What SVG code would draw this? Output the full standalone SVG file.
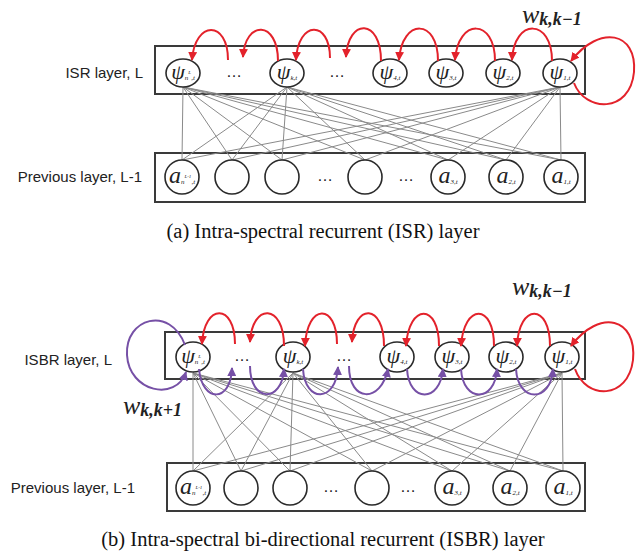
<svg xmlns="http://www.w3.org/2000/svg" width="644" height="559" viewBox="0 0 644 559">
<defs>
<style>
.box{fill:none;stroke:#3a3a3a;stroke-width:2}
.node{fill:#fff;stroke:#2a2a2a;stroke-width:1.6}
.lbl{font-family:"Liberation Sans",Arial,sans-serif;font-size:15px;fill:#222}
.cap{font-family:"Liberation Serif","Times New Roman",serif;font-size:20.5px;fill:#111}
.psi{font-family:"Liberation Serif","DejaVu Serif",serif;font-style:italic;font-size:22px;fill:#222}
.av{font-family:"Liberation Serif","DejaVu Serif",serif;font-style:italic;font-size:24px;fill:#222}
.sub{font-size:7px}
.sup{font-size:5px}
.dots{font-family:"Liberation Sans",Arial,sans-serif;font-size:16px;fill:#222}
.w{font-family:"Liberation Serif","DejaVu Serif",serif;font-style:italic;font-size:26px;fill:#222}
.ws{font-size:18px;font-weight:bold}
.conn line{stroke:#8a8a8a;stroke-width:1}
.red{fill:none;stroke:#e3222b;stroke-width:2;marker-end:url(#ar)}
.pur{fill:none;stroke:#7650a6;stroke-width:2;marker-end:url(#ap)}
</style>
<marker id="ar" viewBox="0 0 10 10" refX="9" refY="5" markerUnits="userSpaceOnUse" markerWidth="9" markerHeight="9" orient="auto"><path d="M0,0 L10,5 L0,10 z" fill="#e3222b"/></marker>
<marker id="ap" viewBox="0 0 10 10" refX="9" refY="5" markerUnits="userSpaceOnUse" markerWidth="9" markerHeight="9" orient="auto"><path d="M0,0 L10,5 L0,10 z" fill="#7650a6"/></marker>
</defs>
<rect width="644" height="559" fill="#fff"/>

<!-- ===== (a) ===== -->
<g id="a-labels">
<text class="lbl" x="143" y="78" text-anchor="end">ISR layer, L</text>
<text class="lbl" x="142" y="182" text-anchor="end">Previous layer, L-1</text>
</g>
<rect id="a-top-box" class="box" x="155" y="46" width="430" height="48"/>
<rect id="a-bot-box" class="box" x="155" y="153" width="430" height="49"/>

<g id="a-conn" class="conn">
<line x1="183" y1="87" x2="182" y2="160"/><line x1="183" y1="87" x2="232" y2="160"/><line x1="183" y1="87" x2="282" y2="160"/><line x1="183" y1="87" x2="365" y2="160"/><line x1="183" y1="87" x2="448" y2="160"/><line x1="183" y1="87" x2="506" y2="160"/><line x1="183" y1="87" x2="561" y2="160"/>
<line x1="287" y1="87" x2="182" y2="160"/><line x1="287" y1="87" x2="232" y2="160"/><line x1="287" y1="87" x2="282" y2="160"/><line x1="287" y1="87" x2="365" y2="160"/><line x1="287" y1="87" x2="448" y2="160"/><line x1="287" y1="87" x2="506" y2="160"/><line x1="287" y1="87" x2="561" y2="160"/>
<line x1="560" y1="87" x2="182" y2="160"/><line x1="560" y1="87" x2="232" y2="160"/><line x1="560" y1="87" x2="282" y2="160"/><line x1="560" y1="87" x2="365" y2="160"/><line x1="560" y1="87" x2="448" y2="160"/><line x1="560" y1="87" x2="506" y2="160"/><line x1="560" y1="87" x2="561" y2="160"/>
</g>

<g id="a-psi-n"><ellipse class="node" cx="183" cy="73" rx="17" ry="14"/><text class="psi" x="183" y="79" text-anchor="middle">ψ<tspan class="sub" dy="1">n</tspan><tspan class="sup" dy="-6">L</tspan><tspan class="sub" dy="6">,t</tspan></text></g>
<g id="a-psi-k"><ellipse class="node" cx="287" cy="73" rx="17" ry="14"/><text class="psi" x="287" y="79" text-anchor="middle">ψ<tspan class="sub" dy="1">k,t</tspan></text></g>
<g id="a-psi-4"><ellipse class="node" cx="390" cy="73" rx="17" ry="14"/><text class="psi" x="390" y="79" text-anchor="middle">ψ<tspan class="sub" dy="1">4,t</tspan></text></g>
<g id="a-psi-3"><ellipse class="node" cx="446" cy="73" rx="17" ry="14"/><text class="psi" x="446" y="79" text-anchor="middle">ψ<tspan class="sub" dy="1">3,t</tspan></text></g>
<g id="a-psi-2"><ellipse class="node" cx="503" cy="73" rx="17" ry="14"/><text class="psi" x="503" y="79" text-anchor="middle">ψ<tspan class="sub" dy="1">2,t</tspan></text></g>
<g id="a-psi-1"><ellipse class="node" cx="560" cy="73" rx="17" ry="14"/><text class="psi" x="560" y="79" text-anchor="middle">ψ<tspan class="sub" dy="1">1,t</tspan></text></g>
<text class="dots" x="234" y="77" text-anchor="middle">…</text>
<text class="dots" x="337" y="77" text-anchor="middle">…</text>

<g id="a-a-n"><circle class="node" cx="182" cy="177" r="17"/><text class="av" x="182" y="183" text-anchor="middle">a<tspan class="sub" dy="1">n</tspan><tspan class="sup" dy="-6">L-1</tspan><tspan class="sub" dy="6">,t</tspan></text></g>
<g id="a-a-5"><circle class="node" cx="232" cy="177" r="17"/></g>
<g id="a-a-4"><circle class="node" cx="282" cy="177" r="17"/></g>
<g id="a-a-x"><circle class="node" cx="365" cy="177" r="17"/></g>
<g id="a-a-3"><circle class="node" cx="448" cy="177" r="17"/><text class="av" x="448" y="183" text-anchor="middle">a<tspan class="sub" dy="1">3,t</tspan></text></g>
<g id="a-a-2"><circle class="node" cx="506" cy="177" r="17"/><text class="av" x="506" y="183" text-anchor="middle">a<tspan class="sub" dy="1">2,t</tspan></text></g>
<g id="a-a-1"><circle class="node" cx="561" cy="177" r="17"/><text class="av" x="561" y="183" text-anchor="middle">a<tspan class="sub" dy="1">1,t</tspan></text></g>
<text class="dots" x="325" y="181" text-anchor="middle">…</text>
<text class="dots" x="406" y="181" text-anchor="middle">…</text>

<g id="a-recur">
<path class="red" d="M228,60 C228,20 195,20 192,60"/>
<path class="red" d="M278,61 C278,20 245,20 243,57"/>
<path class="red" d="M330,58 C330,20 298,20 296,60"/>
<path class="red" d="M381,61 C381,18 348,18 346,57"/>
<path class="red" d="M438,61 C438,18 402,18 399,60"/>
<path class="red" d="M495,61 C495,18 458,18 455,60"/>
<path class="red" d="M552,61 C552,18 514,18 512,60"/>
<path class="red" d="M574,83 C585,112 630,114 634,72 C637,32 600,24 571,61"/>
</g>
<text class="w" x="522" y="23">w<tspan class="ws" dy="2">k,k−1</tspan></text>

<text class="cap" x="323" y="238" text-anchor="middle">(a) Intra-spectral recurrent (ISR) layer</text>

<!-- ===== (b) ===== -->
<g id="b-labels">
<text class="lbl" x="112" y="365" text-anchor="end">ISBR layer, L</text>
<text class="lbl" x="135" y="493" text-anchor="end">Previous layer, L-1</text>
</g>
<rect id="b-top-box" class="box" x="165" y="332" width="420" height="47"/>
<rect id="b-bot-box" class="box" x="167" y="463" width="418" height="48"/>

<g id="b-conn" class="conn">
<line x1="193" y1="373" x2="193" y2="471"/><line x1="193" y1="373" x2="241" y2="471"/><line x1="193" y1="373" x2="290" y2="471"/><line x1="193" y1="373" x2="372" y2="471"/><line x1="193" y1="373" x2="452" y2="471"/><line x1="193" y1="373" x2="510" y2="471"/><line x1="193" y1="373" x2="563" y2="471"/>
<line x1="293" y1="373" x2="193" y2="471"/><line x1="293" y1="373" x2="241" y2="471"/><line x1="293" y1="373" x2="290" y2="471"/><line x1="293" y1="373" x2="372" y2="471"/><line x1="293" y1="373" x2="452" y2="471"/><line x1="293" y1="373" x2="510" y2="471"/><line x1="293" y1="373" x2="563" y2="471"/>
<line x1="562" y1="373" x2="193" y2="471"/><line x1="562" y1="373" x2="241" y2="471"/><line x1="562" y1="373" x2="290" y2="471"/><line x1="562" y1="373" x2="372" y2="471"/><line x1="562" y1="373" x2="452" y2="471"/><line x1="562" y1="373" x2="510" y2="471"/><line x1="562" y1="373" x2="563" y2="471"/>
</g>

<g id="b-psi-n"><ellipse class="node" cx="193" cy="357" rx="17" ry="15"/><text class="psi" x="193" y="363" text-anchor="middle">ψ<tspan class="sub" dy="1">n</tspan><tspan class="sup" dy="-6">L</tspan><tspan class="sub" dy="6">,t</tspan></text></g>
<g id="b-psi-k"><ellipse class="node" cx="293" cy="357" rx="17" ry="15"/><text class="psi" x="293" y="363" text-anchor="middle">ψ<tspan class="sub" dy="1">k,t</tspan></text></g>
<g id="b-psi-4"><ellipse class="node" cx="397" cy="357" rx="17" ry="15"/><text class="psi" x="397" y="363" text-anchor="middle">ψ<tspan class="sub" dy="1">4,t</tspan></text></g>
<g id="b-psi-3"><ellipse class="node" cx="452" cy="357" rx="17" ry="15"/><text class="psi" x="452" y="363" text-anchor="middle">ψ<tspan class="sub" dy="1">3,t</tspan></text></g>
<g id="b-psi-2"><ellipse class="node" cx="506" cy="357" rx="17" ry="15"/><text class="psi" x="506" y="363" text-anchor="middle">ψ<tspan class="sub" dy="1">2,t</tspan></text></g>
<g id="b-psi-1"><ellipse class="node" cx="562" cy="357" rx="17" ry="15"/><text class="psi" x="562" y="363" text-anchor="middle">ψ<tspan class="sub" dy="1">1,t</tspan></text></g>
<text class="dots" x="242" y="361" text-anchor="middle">…</text>
<text class="dots" x="344" y="361" text-anchor="middle">…</text>

<g id="b-a-n"><circle class="node" cx="193" cy="488" r="17"/><text class="av" x="193" y="494" text-anchor="middle">a<tspan class="sub" dy="1">n</tspan><tspan class="sup" dy="-6">L-1</tspan><tspan class="sub" dy="6">,t</tspan></text></g>
<g id="b-a-5"><circle class="node" cx="241" cy="488" r="17"/></g>
<g id="b-a-4"><circle class="node" cx="290" cy="488" r="17"/></g>
<g id="b-a-x"><circle class="node" cx="372" cy="488" r="17"/></g>
<g id="b-a-3"><circle class="node" cx="452" cy="488" r="17"/><text class="av" x="452" y="494" text-anchor="middle">a<tspan class="sub" dy="1">3,t</tspan></text></g>
<g id="b-a-2"><circle class="node" cx="510" cy="488" r="17"/><text class="av" x="510" y="494" text-anchor="middle">a<tspan class="sub" dy="1">2,t</tspan></text></g>
<g id="b-a-1"><circle class="node" cx="563" cy="488" r="17"/><text class="av" x="563" y="494" text-anchor="middle">a<tspan class="sub" dy="1">1,t</tspan></text></g>
<text class="dots" x="331" y="492" text-anchor="middle">…</text>
<text class="dots" x="408" y="492" text-anchor="middle">…</text>

<g id="b-recur-fwd">
<path class="red" d="M235,344 C235,303 204,303 202,344"/>
<path class="red" d="M284,346 C284,303 252,303 250,342"/>
<path class="red" d="M337,344 C337,303 307,303 305,346"/>
<path class="red" d="M384,346 C384,303 354,303 352,342"/>
<path class="red" d="M439,346 C439,303 409,303 406,346"/>
<path class="red" d="M494,346 C494,303 464,303 461,346"/>
<path class="red" d="M550,346 C550,303 519,303 517,346"/>
<path class="red" d="M575,369 C586,400 628,400 633,360 C637,318 600,308 571,346"/>
</g>
<g id="b-recur-bwd">
<path class="pur" d="M199,369 C202,403 231,403 232,368"/>
<path class="pur" d="M250,366 C250,403 282,403 284,369"/>
<path class="pur" d="M303,369 C305,403 336,403 338,367"/>
<path class="pur" d="M349,366 C349,403 381,403 388,369"/>
<path class="pur" d="M407,369 C409,403 440,403 443,369"/>
<path class="pur" d="M461,369 C463,403 495,403 497,369"/>
<path class="pur" d="M516,369 C518,403 551,403 553,369"/>
<path class="pur" d="M185,345 C170,305 125,318 127,355 C129,392 176,402 186,372"/>
</g>
<text class="w" x="512" y="295">w<tspan class="ws" dy="2">k,k−1</tspan></text>
<text class="w" x="123" y="414">w<tspan class="ws" dy="2">k,k+1</tspan></text>

<text class="cap" x="323" y="546" text-anchor="middle">(b) Intra-spectral bi-directional recurrent (ISBR) layer</text>
</svg>
